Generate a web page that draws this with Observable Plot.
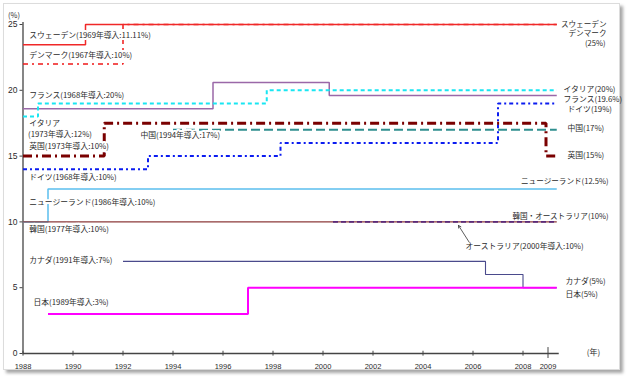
<!DOCTYPE html>
<html>
<head>
<meta charset="utf-8">
<script src="https://cdn.jsdelivr.net/npm/d3@7"></script>
<script src="https://cdn.jsdelivr.net/npm/@observablehq/plot@0.6"></script>
<style>
  html, body { margin: 0; padding: 0; background: #fff; }
  #wrap { position: relative; width: 628px; height: 376px; overflow: hidden; }
  #frame { position: absolute; left: 3px; top: 3px; width: 617px; height: 367px; box-sizing: border-box;
           border: 1px solid #dcdcdc; box-shadow: 3px 3px 3px rgba(0,0,0,0.35); background: #fff; }
  #chart { position: absolute; left: 0; top: 0; }
  #chart svg { background: transparent; }
</style>
</head>
<body>
<div id="wrap"><div id="frame"></div><div id="chart"></div></div>
<script>
// ---- data (year of change, VAT rate %) ----
const endYear = 2009.35;
const swedenYears = [1988, 1990.5];            const swedenRates = [23.46, 25];
const denmarkYears = [1988, 1992];             const denmarkRates = [22, 25];
const franceYears = [1988, 1995.6, 2000.25];   const franceRates = [18.6, 20.6, 19.6];
const italyYears = [1988, 1988.6, 1997.75];    const italyRates = [18, 19, 20];
const ukYears = [1988, 1991.25, 2008.92];      const ukRates = [15, 17.5, 15];
const chinaYears = [1994];                     const chinaRates = [17];
const germanyYears = [1988, 1993, 1998.3, 2007]; const germanyRates = [14, 15, 16, 19];
const nzYears = [1988, 1989];                  const nzRates = [10, 12.5];
const koreaYears = [1988];                     const koreaRates = [10];
const australiaYears = [2000.4];               const australiaRates = [10];
const canadaYears = [1992, 2006.5, 2008];      const canadaRates = [7, 6, 5];
const japanYears = [1989, 1997];               const japanRates = [3, 5];

const xTicks = [1988, 1990, 1992, 1994, 1996, 1998, 2000, 2002, 2004, 2006, 2008];
const xTickMajor = [2009];
const yTicks = [0, 5, 10, 15, 20, 25];

// labels on the left (introduction year and initial rate)
const leftLabels = ["スウェーデン(1969年導入:11.11%)", "デンマーク(1967年導入:10%)", "フランス(1968年導入:20%)",
  "イタリア", "(1973年導入:12%)", "英国(1973年導入:10%)", "中国(1994年導入:17%)", "ドイツ(1968年導入:10%)",
  "ニュージーランド(1986年導入:10%)", "韓国(1977年導入:10%)", "カナダ(1991年導入:7%)", "日本(1989年導入:3%)"];
const leftLabelX = [1988.25, 1988.25, 1988.25, 1988.25, 1988.2, 1988.25, 1992.7, 1988.25, 1988.25, 1988.25, 1988.25, 1988.42];
const leftLabelY = [24.2, 22.64, 19.6, 17.48, 16.64, 15.73, 16.57, 13.37, 11.47, 9.42, 7.07, 3.88];

// labels at the right end (current rate)
const endLabelsStart = ["イタリア(20%)", "フランス(19.6%)", "ドイツ(19%)", "中国(17%)", "英国(15%)", "カナダ(5%)", "日本(5%)"];
const endLabelsStartY = [20.06, 19.3, 18.54, 17.1, 15.05, 5.47, 4.48];
const endLabelsStartX = [2009.62, 2009.62, 2009.78, 2009.78, 2009.78, 2009.7, 2009.7];
const endLabelsEnd = ["スウェーデン", "デンマーク", "(25%)", "ニュージーランド(12.5%)", "韓国・オーストラリア(10%)"];
const endLabelsEndY = [25.0, 24.28, 23.56, 13.07, 10.41];
const endLabelsEndX = [2011.34, 2011.34, 2011.3, 2011.42, 2011.42];

const noteText = "オーストラリア(2000年導入:10%)";
const noteAt = {x: 2005.7, y: 8.13};
const arrowFrom = {x: 2005.85, y: 8.45};
const arrowTo = {x: 2005.42, y: 9.73};

const series = (years, rates) => {
  const d = years.map((y, i) => ({year: y, rate: rates[i]}));
  d.push({year: endYear, rate: rates[rates.length - 1]});
  return d;
};

const font = "'Noto Sans CJK JP', 'Noto Sans', sans-serif";
const txt = "#2b2b2b";

const stepLine = (years, rates, opts) =>
  Plot.line(series(years, rates), {x: "year", y: "rate", curve: "step-after", strokeLinecap: "butt", strokeLinejoin: "miter", ...opts});

const chart = Plot.plot({
  width: 628,
  height: 376,
  marginLeft: 22.5,
  marginRight: 68,
  marginTop: 24,
  marginBottom: 23,
  x: {domain: [1988, 2009.5], axis: null},
  y: {domain: [0, 25], axis: null},
  style: {fontFamily: font, background: "transparent"},
  marks: [
    // axes
    Plot.ruleY([0], {x1: 1988, x2: 2009.45, stroke: "#444", strokeWidth: 1.3}),
    Plot.ruleX([1988], {y1: 0, y2: 25.15, stroke: "#444", strokeWidth: 1.3}),
    Plot.ruleX(xTicks, {x: d => d, y1: -0.2, y2: 0.17, stroke: "#444", strokeWidth: 1}),
    Plot.ruleX(xTickMajor, {x: d => d, y1: -0.38, y2: 0.45, stroke: "#444", strokeWidth: 1}),
    Plot.ruleY(yTicks, {y: d => d, x1: 1987.88, x2: 1988, stroke: "#444", strokeWidth: 1}),
    Plot.text(xTicks.concat(xTickMajor), {x: d => d, y: 0, dy: 13, text: d => String(d), fontSize: 7.5, fill: txt,
      fontFamily: "'Liberation Sans', Arial, sans-serif"}),
    Plot.text(yTicks, {x: 1988, y: d => d, dx: -5.5, textAnchor: "end", text: d => String(d), fontSize: 8.5, fill: txt,
      fontFamily: "'Liberation Sans', Arial, sans-serif"}),
    Plot.text(["(%)"], {frameAnchor: "top-left", dx: -15, dy: -12, textAnchor: "start", fontSize: 7.5, fill: txt, text: d => d}),
    Plot.text(["(年)"], {x: 2010.55, y: 0, dy: -1, textAnchor: "start", fontSize: 8, fill: txt, text: d => d}),

    // series (drawn in layering order)
    stepLine(nzYears, nzRates, {stroke: "#5bbfee", strokeWidth: 1.5}),
    stepLine(koreaYears, koreaRates, {stroke: "#8c3a3a", strokeWidth: 1.1}),
    stepLine(australiaYears, australiaRates, {stroke: "#5a2a7a", strokeWidth: 1.6, strokeDasharray: "5,3"}),
    stepLine(canadaYears, canadaRates, {stroke: "#4a4a8c", strokeWidth: 1.1}),
    stepLine(japanYears, japanRates, {stroke: "#ff00ff", strokeWidth: 2}),
    stepLine(germanyYears, germanyRates, {stroke: "#0b1cf0", strokeWidth: 2, strokeDasharray: "4,3,2,3"}),
    stepLine(chinaYears, chinaRates, {stroke: "#2f8f8f", strokeWidth: 2, strokeDasharray: "9,4"}),
    stepLine(ukYears, ukRates, {stroke: "#7a0000", strokeWidth: 3, strokeDasharray: "9,4,2,4"}),
    stepLine(franceYears, franceRates, {stroke: "#9a68a8", strokeWidth: 1.5}),
    stepLine(italyYears, italyRates, {stroke: "#19e6f2", strokeWidth: 2, strokeDasharray: "4,3"}),
    stepLine(denmarkYears, denmarkRates, {stroke: "#f01818", strokeWidth: 1.5, strokeDasharray: "5,4,2,4"}),
    stepLine(swedenYears, swedenRates, {stroke: "#f02828", strokeWidth: 1.5}),

    // annotations (left labels sit on white boxes that hide the lines behind them)
    Plot.text(leftLabels, {x: (d, i) => leftLabelX[i], y: (d, i) => leftLabelY[i], text: d => d, textAnchor: "start", fontSize: 7.8, fill: txt,
      stroke: "white", strokeWidth: 4, paintOrder: "stroke"}),
    Plot.text(endLabelsStart, {x: (d, i) => endLabelsStartX[i], y: (d, i) => endLabelsStartY[i], text: d => d, textAnchor: "start", fontSize: 7.8, fill: txt}),
    Plot.text(endLabelsEnd, {x: (d, i) => endLabelsEndX[i], y: (d, i) => endLabelsEndY[i], text: d => d, textAnchor: "end", fontSize: 7.6, fill: txt}),
    Plot.text([noteText], {x: noteAt.x, y: noteAt.y, text: d => d, textAnchor: "start", fontSize: 7.8, fill: txt}),
    Plot.arrow([0], {x1: arrowFrom.x, y1: arrowFrom.y, x2: arrowTo.x, y2: arrowTo.y, stroke: "#333", strokeWidth: 0.8, headLength: 5})
  ]
});
document.getElementById("chart").appendChild(chart);
</script>
</body>
</html>
